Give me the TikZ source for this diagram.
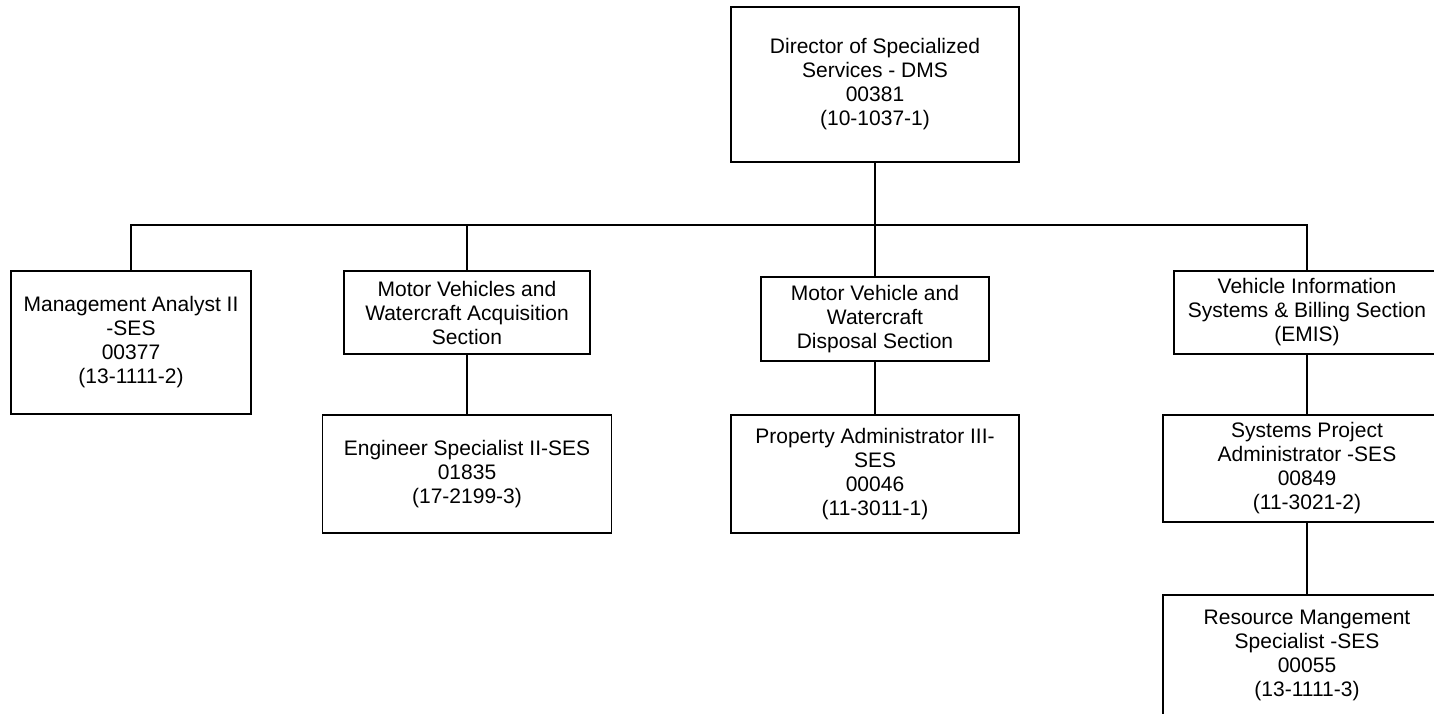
\documentclass[tikz,border=0pt]{standalone}
\usepackage{fontspec}
\setmainfont{Liberation Sans}
\begin{document}
\begin{tikzpicture}[x=1pt,y=-1pt,
  orgbox/.style={draw=black, line width=1.8pt, rectangle, inner sep=0pt, align=center,
    font=\fontsize{21}{24}\selectfont, fill=white},
  conn/.style={draw=black, line width=1.8pt}]
\useasboundingbox (0,0) rectangle (1434,713);
\clip (0,0) rectangle (1434,713);
\fill[white] (0,0) rectangle (1434,713);

\node[orgbox, minimum width=288pt, minimum height=155pt] (top) at (875,84.5)
  {Director of Specialized\\Services - DMS\\00381\\(10-1037-1)};
\node[orgbox, minimum width=240pt, minimum height=143pt] (b1) at (131,342.5)
  {Management Analyst II\\-SES\\00377\\(13-1111-2)};
\node[orgbox, minimum width=246pt, minimum height=83pt] (b2) at (467,312.5)
  {Motor Vehicles and\\Watercraft Acquisition\\Section};
\node[orgbox, minimum width=228pt, minimum height=84pt] (b3) at (875,319)
  {Motor Vehicle and\\Watercraft\\Disposal Section};
\node[orgbox, minimum width=266pt, minimum height=83pt] (b4) at (1307,312.5)
  {Vehicle Information\\Systems \& Billing Section\\(EMIS)};
\node[orgbox, minimum width=289pt, minimum height=118pt] (b2c) at (467,474)
  {Engineer Specialist II-SES\\01835\\(17-2199-3)};
\node[orgbox, minimum width=288pt, minimum height=118pt] (b3c) at (875,474)
  {Property Administrator III-\\SES\\00046\\(11-3011-1)};
\node[orgbox, minimum width=288pt, minimum height=107pt] (b4c) at (1307,468.5)
  {Systems Project\\Administrator -SES\\00849\\(11-3021-2)};
\node[orgbox, minimum width=288pt, minimum height=120pt] (b4g) at (1307,655)
  {Resource Mangement\\Specialist -SES\\00055\\(13-1111-3)};

\coordinate (bus) at (875,225);
\draw[conn] (top.south) -- (top.south |- bus);
\draw[conn] (b1.north) -- (b1.north |- bus) -- (b4.north |- bus) -- (b4.north);
\draw[conn] (b2.north |- bus) -- (b2.north);
\draw[conn] (b3.north |- bus) -- (b3.north);
\draw[conn] (b2.south) -- (b2c.north);
\draw[conn] (b3.south) -- (b3c.north);
\draw[conn] (b4.south) -- (b4c.north);
\draw[conn] (b4c.south) -- (b4g.north);
\end{tikzpicture}
\end{document}
